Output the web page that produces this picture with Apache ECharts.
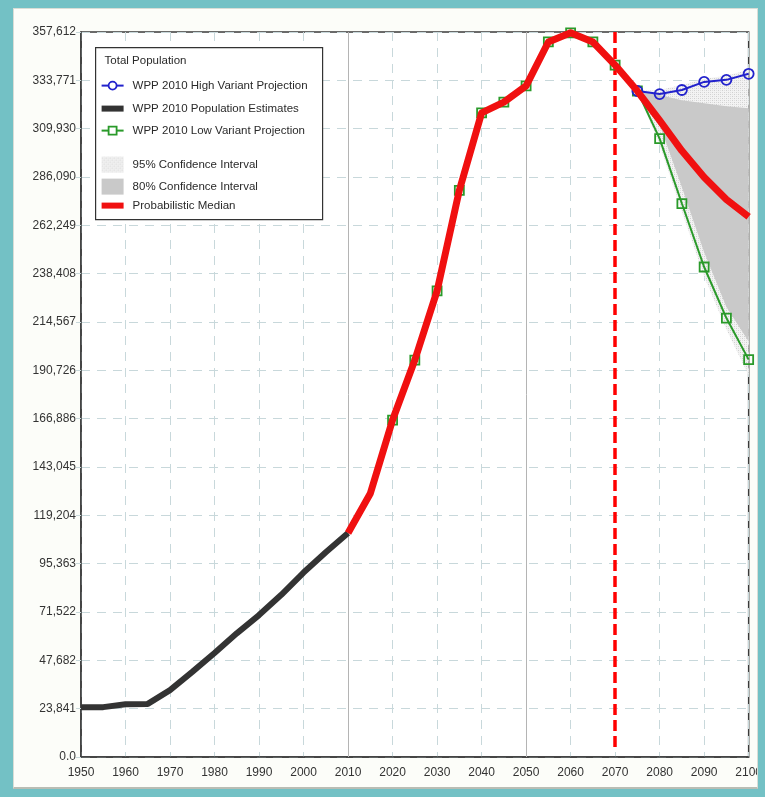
<!DOCTYPE html>
<html>
<head>
<meta charset="utf-8">
<script src="https://cdn.jsdelivr.net/npm/echarts@6/dist/echarts.min.js"></script>
<style>
  html, body { margin: 0; padding: 0; background: #fcfdf9; }
  #wrap { position: relative; width: 765px; height: 797px; overflow: hidden; }
  #chart { position: absolute; left: 0; top: 0; width: 765px; height: 797px; }
  #frame {
    position: absolute; left: 0; top: 0; width: 765px; height: 797px; box-sizing: border-box;
    border-style: solid; border-color: #73c1c5;
    border-width: 8px 7px 8px 13px; pointer-events: none;
  }
  #inner {
    position: absolute; left: 13px; top: 8px; width: 745px; height: 781px; box-sizing: border-box;
    border: 1px solid #d9ddd6; border-bottom: 2px solid #b9bdb4; pointer-events: none;
  }
</style>
</head>
<body>
<div id="wrap">
  <div id="chart"></div>
  <div id="frame"></div>
  <div id="inner"></div>
</div>
<script>
// Population estimates 1950-2010 (five-year steps)
const estYears = [1950, 1955, 1960, 1965, 1970, 1975, 1980, 1985, 1990, 1995, 2000, 2005, 2010];
const estimates = [24500, 24600, 26000, 26200, 33000, 42000, 51300, 61000, 70000, 80000, 91000, 101000, 110500];

// Probabilistic median 2010-2100
const medYears = [2010, 2015, 2020, 2025, 2030, 2035, 2040, 2045, 2050, 2055, 2060, 2065, 2070, 2075, 2080, 2085, 2090, 2095, 2100];
const median = [110500, 130000, 166200, 195800, 229900, 279500, 317700, 323000, 331000, 352700, 357200, 352700, 341300, 328500, 314000, 299000, 286000, 275000, 266500];

// Low variant projection
const lowYears = [2020, 2025, 2030, 2035, 2040, 2045, 2050, 2055, 2060, 2065, 2070, 2075, 2080, 2085, 2090, 2095, 2100];
const lowVariant = [166200, 195800, 229900, 279500, 317700, 323000, 331000, 352700, 357200, 352700, 341300, 328500, 305000, 273000, 241700, 216500, 196000];

// High variant projection
const highYears = [2075, 2080, 2085, 2090, 2095, 2100];
const highVariant = [328500, 327000, 329000, 333000, 334000, 337000];

// Confidence intervals
const ciYears = [2075, 2080, 2085, 2090, 2095, 2100];
const lower95 = [328500, 302000, 269000, 237000, 211000, 188000];
const upper95 = [328500, 329000, 331500, 334500, 336000, 339000];
const lower80 = [328500, 312000, 281000, 249000, 222000, 205000];
const upper80 = [328500, 326500, 324000, 322500, 321000, 320000];

// Axis tick labels
const yTickLabels = ['0.0', '23,841', '47,682', '71,522', '95,363', '119,204', '143,045', '166,886',
  '190,726', '214,567', '238,408', '262,249', '286,090', '309,930', '333,771', '357,612'];
const yMax = 357612;
const yStep = yMax / 15;
const xMin = 1950, xMax = 2100, xStep = 10;
const markerYear = 2070;
const gridYears = [2010, 2050];

const pairs = (xs, ys) => xs.map((x, i) => [x, ys[i]]);
const bandRows = (xs, lo, hi) => xs.map((x, i) => [x, lo[i], hi[i]]);

// Speckled fill for the 95% interval
function makeSpeckle() {
  const c = document.createElement('canvas');
  c.width = 4; c.height = 4;
  const g = c.getContext('2d');
  g.fillStyle = '#f3f3f3'; g.fillRect(0, 0, 4, 4);
  g.fillStyle = '#d0d0d0';
  g.fillRect(0, 0, 1, 1); g.fillRect(2, 2, 1, 1);
  g.fillStyle = '#e0e0e0';
  g.fillRect(2, 0, 1, 1); g.fillRect(0, 2, 1, 1);
  return c;
}
const speckle = { image: makeSpeckle(), repeat: 'repeat' };

const FONT = '"Liberation Sans", Arial, sans-serif';
const RED = '#f01010', BLUE = '#2222cc', GREEN = '#2a9a2a', DARK = '#333333', GRAY80 = '#c9c9c9';

// One filled polygon per band: upper edge forward, lower edge back
function bandSeries(name, rows, fill, z) {
  return {
    name: name, type: 'custom', data: rows, z: z, silent: true,
    encode: { x: 0, y: [1, 2] },
    renderItem: (params, api) => {
      if (params.dataIndex !== 0) return null;
      const up = [], dn = [];
      for (let i = 0; i < rows.length; i++) {
        up.push(api.coord([rows[i][0], rows[i][2]]));
        dn.push(api.coord([rows[i][0], rows[i][1]]));
      }
      return {
        type: 'polygon',
        shape: { points: up.concat(dn.reverse()) },
        style: { fill: fill, stroke: null }
      };
    }
  };
}

const chart = echarts.init(document.getElementById('chart'), null, { renderer: 'canvas' });

// Legend box
const legendRows = [
  { y: 38, kind: 'circle', text: 'WPP 2010 High Variant Projection' },
  { y: 61, kind: 'bar', color: DARK, text: 'WPP 2010 Population Estimates' },
  { y: 83, kind: 'square', text: 'WPP 2010 Low Variant Projection' },
  { y: 117, kind: 'speckle', text: '95% Confidence Interval' },
  { y: 139, kind: 'gray', text: '80% Confidence Interval' },
  { y: 158, kind: 'bar', color: RED, text: 'Probabilistic Median' }
];
const LZ = 100;
const legendChildren = [
  { type: 'rect', z: LZ, shape: { x: 0, y: 0, width: 227, height: 172 },
    style: { fill: '#ffffff', stroke: '#333', lineWidth: 1.2 } },
  { type: 'text', z: LZ + 1, x: 9, y: 7, style: { text: 'Total Population', font: '11.5px ' + FONT, fill: '#2a2a2a' } }
];
legendRows.forEach(r => {
  if (r.kind === 'circle' || r.kind === 'square') {
    const col = r.kind === 'circle' ? BLUE : GREEN;
    legendChildren.push({ type: 'line', z: LZ + 1, shape: { x1: 6, y1: r.y, x2: 28, y2: r.y }, style: { stroke: col, lineWidth: 2 } });
    if (r.kind === 'circle') {
      legendChildren.push({ type: 'circle', z: LZ + 2, shape: { cx: 17, cy: r.y, r: 4 }, style: { fill: '#fff', stroke: col, lineWidth: 1.8 } });
    } else {
      legendChildren.push({ type: 'rect', z: LZ + 2, shape: { x: 13, y: r.y - 4, width: 8, height: 8 }, style: { fill: '#fff', stroke: col, lineWidth: 1.8 } });
    }
  } else if (r.kind === 'bar') {
    legendChildren.push({ type: 'rect', z: LZ + 1, shape: { x: 6, y: r.y - 3, width: 22, height: 6 }, style: { fill: r.color } });
  } else if (r.kind === 'speckle') {
    legendChildren.push({ type: 'rect', z: LZ + 1, shape: { x: 6, y: r.y - 8, width: 22, height: 16 }, style: { fill: speckle } });
  } else {
    legendChildren.push({ type: 'rect', z: LZ + 1, shape: { x: 6, y: r.y - 8, width: 22, height: 16 }, style: { fill: GRAY80 } });
  }
  legendChildren.push({ type: 'text', z: LZ + 1, x: 37, y: r.y, style: { text: r.text, font: '11.5px ' + FONT, fill: '#2a2a2a', verticalAlign: 'middle' } });
});

const option = {
  backgroundColor: '#fcfdf9',
  animation: false,
  grid: { left: 81, top: 32, right: 13, bottom: 40, show: true, backgroundColor: '#ffffff', borderColor: '#3a3a3a', borderWidth: 1.5 },
  xAxis: {
    type: 'value', min: xMin, max: xMax, interval: xStep,
    axisLine: { show: true, lineStyle: { color: '#3a3a3a', width: 1.5 } },
    axisTick: { show: false },
    axisLabel: { color: '#333', fontFamily: FONT, fontSize: 12, margin: 10, formatter: v => String(v) },
    splitLine: { show: true, lineStyle: { color: '#c8d8db', type: [9, 7], width: 1 } }
  },
  yAxis: {
    type: 'value', min: 0, max: yMax, interval: yStep,
    axisLine: { show: true, lineStyle: { color: '#3a3a3a', width: 1.5 } },
    axisTick: { show: true, length: 5, lineStyle: { color: '#c8d8db' } },
    axisLabel: { color: '#333', fontFamily: FONT, fontSize: 12, margin: 5,
      formatter: v => yTickLabels[Math.round(v / yStep)] },
    splitLine: { show: true, lineStyle: { color: '#c8d8db', type: [9, 7], width: 1 } }
  },
  graphic: [{ type: 'group', left: 95, top: 47, z: LZ, children: legendChildren }],
  series: [
    Object.assign(bandSeries('95% Confidence Interval', bandRows(ciYears, lower95, upper95), speckle, 2), {
      markLine: { silent: true, symbol: 'none', label: { show: false },
        lineStyle: { color: '#b4b4b4', type: 'solid', width: 1 },
        data: gridYears.map(y => ({ xAxis: y })) }
    }),
    bandSeries('80% Confidence Interval', bandRows(ciYears, lower80, upper80), GRAY80, 3),
    { name: 'WPP 2010 Population Estimates', type: 'line', data: pairs(estYears, estimates), symbol: 'none',
      lineStyle: { color: DARK, width: 6 }, z: 5 },
    { name: 'WPP 2010 Low Variant Projection', type: 'line', data: pairs(lowYears, lowVariant),
      symbol: 'rect', symbolSize: 9, showAllSymbol: true,
      itemStyle: { color: 'rgba(255,255,255,0)', borderColor: GREEN, borderWidth: 1.8 },
      lineStyle: { color: GREEN, width: 2 }, z: 6 },
    { name: 'WPP 2010 High Variant Projection', type: 'line', data: pairs(highYears, highVariant),
      symbol: 'circle', symbolSize: 10, showAllSymbol: true,
      itemStyle: { color: 'rgba(255,255,255,0)', borderColor: BLUE, borderWidth: 1.8 },
      lineStyle: { color: BLUE, width: 2 }, z: 6 },
    { name: 'Probabilistic Median', type: 'line', data: pairs(medYears, median), symbol: 'none',
      lineStyle: { color: RED, width: 7, join: 'round' }, z: 7,
      markLine: { silent: true, symbol: ['none', 'triangle'], symbolSize: [0, 16], label: { show: false },
        lineStyle: { color: '#ff0000', type: [11, 5], width: 3.5 },
        data: [[{ coord: [markerYear, yMax] }, { coord: [markerYear, 3000] }]] } }
  ]
};
chart.setOption(option);
</script>
</body>
</html>
